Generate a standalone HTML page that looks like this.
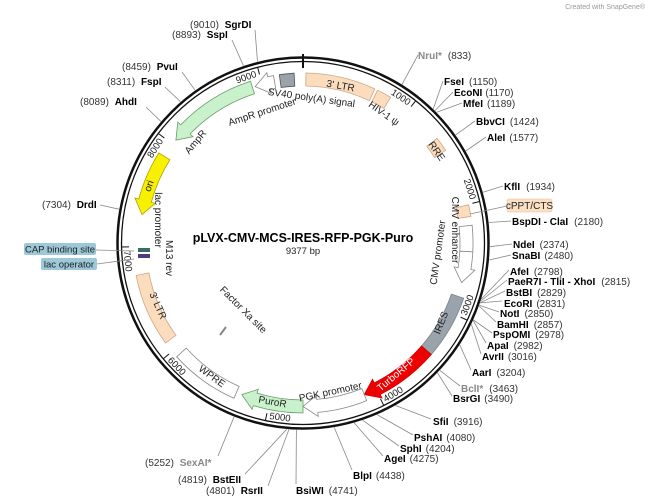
<!DOCTYPE html>
<html><head><meta charset="utf-8"><style>
html,body{margin:0;padding:0;background:#fff;}
svg{display:block;font-family:"Liberation Sans","DejaVu Sans",sans-serif;}
.n{font-weight:bold;font-size:10px;fill:#000;}
.p{font-size:10px;fill:#333;}
.f{font-size:10px;fill:#222;}
</style></head><body>
<svg id="s" width="649" height="502" viewBox="0 0 649 502" xmlns="http://www.w3.org/2000/svg">
<g id="lines" stroke="#888" stroke-width="0.8" fill="none"></g>
<g id="feat"></g>
<circle cx="303" cy="243" r="185.5" fill="none" stroke="#111" stroke-width="2.5"/>
<circle cx="303" cy="243" r="181.5" fill="none" stroke="#111" stroke-width="1.3"/>
<line x1="303" y1="54" x2="303" y2="68" stroke="#111" stroke-width="2"/>
<g id="ticks" stroke="#111" stroke-width="1"></g>

<text x="645" y="9" font-size="7" fill="#999" text-anchor="end">Created with SnapGene®</text>
<text x="303" y="242" text-anchor="middle" font-size="12.5" font-weight="bold">pLVX-CMV-MCS-IRES-RFP-PGK-Puro</text>
<text x="303" y="254" text-anchor="middle" font-size="9.5" fill="#222">9377 bp</text>

<g font-size="9.5" fill="#222" text-anchor="middle">
<text transform="translate(401,97) rotate(34)" dy="0.35em">1000</text>
<text transform="translate(470,189) rotate(72)" dy="0.35em">2000</text>
<text transform="translate(467,305) rotate(-69)" dy="0.35em">3000</text>
<text transform="translate(393,394) rotate(-31)" dy="0.35em">4000</text>
<text transform="translate(280,417) rotate(7)" dy="0.35em">5000</text>
<text transform="translate(177,366) rotate(46)" dy="0.35em">6000</text>
<text transform="translate(128,261) rotate(84)" dy="0.35em">7000</text>
<text transform="translate(155,148) rotate(-57)" dy="0.35em">8000</text>
<text transform="translate(246,77) rotate(-19)" dy="0.35em">9000</text>
</g>

<text class="f" transform="translate(340,89) rotate(10)" text-anchor="middle">3' LTR</text>
<text class="f" transform="translate(311,101) rotate(8)" text-anchor="middle">SV40 poly(A) signal</text>
<text class="f" transform="translate(263,115) rotate(-18)" text-anchor="middle">AmpR promoter</text>
<text class="f" transform="translate(382,116) rotate(35)" text-anchor="middle">HIV-1 ψ</text>
<text class="f" transform="translate(198,144) rotate(-50)" text-anchor="middle">AmpR</text>
<text class="f" transform="translate(434,153) rotate(55)" text-anchor="middle" font-size="9">RRE</text>
<text class="f" transform="translate(152,187) rotate(-70)" text-anchor="middle">ori</text>
<text class="f" transform="translate(155,220) rotate(90)" text-anchor="middle">lac promoter</text>
<text class="f" transform="translate(166,258) rotate(90)" text-anchor="middle">M13 rev</text>
<text class="f" transform="translate(155,307) rotate(66)" text-anchor="middle">3' LTR</text>
<text class="f" transform="translate(210,379) rotate(36)" text-anchor="middle">WPRE</text>
<text class="f" transform="translate(272,405) rotate(10)" text-anchor="middle">PuroR</text>
<text class="f" transform="translate(331,395) rotate(-12)" text-anchor="middle">PGK promoter</text>
<text transform="translate(398,377) rotate(-40)" text-anchor="middle" font-size="10" fill="#ffffff">TurboRFP</text>
<text class="f" transform="translate(444,324) rotate(-68)" text-anchor="middle">IRES</text>
<text class="f" transform="translate(441,253) rotate(-82)" text-anchor="middle">CMV promoter</text>
<text class="f" transform="translate(452,230) rotate(90)" text-anchor="middle">CMV enhancer</text>
<text class="f" transform="translate(241,312) rotate(45)" text-anchor="middle">Factor Xa site</text>
<line x1="220" y1="335" x2="226" y2="327" stroke="#888" stroke-width="2"/>

<text x="190" y="28"><tspan class="p">(9010) </tspan><tspan class="n" dx="3">SgrDI</tspan></text>
<text x="172" y="38"><tspan class="p">(8893) </tspan><tspan class="n" dx="3">SspI</tspan></text>
<text x="122" y="70"><tspan class="p">(8459) </tspan><tspan class="n" dx="3">PvuI</tspan></text>
<text x="107" y="85"><tspan class="p">(8311) </tspan><tspan class="n" dx="3">FspI</tspan></text>
<text x="80" y="105"><tspan class="p">(8089) </tspan><tspan class="n" dx="3">AhdI</tspan></text>
<text x="42" y="208"><tspan class="p">(7304) </tspan><tspan class="n" dx="3">DrdI</tspan></text>
<text x="145" y="466"><tspan class="p">(5252) </tspan><tspan class="n" dx="3" style="fill:#888">SexAI*</tspan></text>
<text x="178" y="483"><tspan class="p">(4819) </tspan><tspan class="n" dx="3">BstEII</tspan></text>
<text x="206" y="494"><tspan class="p">(4801) </tspan><tspan class="n" dx="3">RsrII</tspan></text>
<text x="296" y="494"><tspan class="n">BsiWI</tspan><tspan class="p" dx="5">(4741)</tspan></text>
<text x="353" y="479"><tspan class="n">BlpI</tspan><tspan class="p" dx="4">(4438)</tspan></text>
<text x="384" y="462"><tspan class="n">AgeI</tspan><tspan class="p" dx="4">(4275)</tspan></text>
<text x="400" y="452"><tspan class="n">SphI</tspan><tspan class="p" dx="4">(4204)</tspan></text>
<text x="414" y="441"><tspan class="n">PshAI</tspan><tspan class="p" dx="4">(4080)</tspan></text>
<text x="433" y="425"><tspan class="n">SfiI</tspan><tspan class="p" dx="5">(3916)</tspan></text>
<text x="453" y="402"><tspan class="n">BsrGI</tspan><tspan class="p" dx="4">(3490)</tspan></text>
<text x="461" y="392"><tspan class="n" style="fill:#888">BclI*</tspan><tspan class="p" dx="6">(3463)</tspan></text>
<text x="472" y="376"><tspan class="n">AarI</tspan><tspan class="p" dx="5">(3204)</tspan></text>
<text x="482" y="360"><tspan class="n">AvrII</tspan><tspan class="p" dx="4">(3016)</tspan></text>
<text x="487" y="349"><tspan class="n">ApaI</tspan><tspan class="p" dx="5">(2982)</tspan></text>
<text x="493" y="338"><tspan class="n">PspOMI</tspan><tspan class="p" dx="5">(2978)</tspan></text>
<text x="497" y="328"><tspan class="n">BamHI</tspan><tspan class="p" dx="5">(2857)</tspan></text>
<text x="500" y="317"><tspan class="n">NotI</tspan><tspan class="p" dx="5">(2850)</tspan></text>
<text x="504" y="307"><tspan class="n">EcoRI</tspan><tspan class="p" dx="4">(2831)</tspan></text>
<text x="506" y="296"><tspan class="n">BstBI</tspan><tspan class="p" dx="5">(2829)</tspan></text>
<text x="508" y="285"><tspan class="n">PaeR7I - TliI - XhoI</tspan><tspan class="p" dx="6">(2815)</tspan></text>
<text x="510" y="275"><tspan class="n">AfeI</tspan><tspan class="p" dx="5">(2798)</tspan></text>
<text x="512" y="259"><tspan class="n">SnaBI</tspan><tspan class="p" dx="4">(2480)</tspan></text>
<text x="513" y="248"><tspan class="n">NdeI</tspan><tspan class="p" dx="5">(2374)</tspan></text>
<text x="512" y="225"><tspan class="n">BspDI - ClaI</tspan><tspan class="p" dx="6">(2180)</tspan></text>
<text x="504" y="190"><tspan class="n">KflI</tspan><tspan class="p" dx="6">(1934)</tspan></text>
<text x="487" y="141"><tspan class="n">AleI</tspan><tspan class="p" dx="4">(1577)</tspan></text>
<text x="476" y="125"><tspan class="n">BbvCI</tspan><tspan class="p" dx="5">(1424)</tspan></text>
<text x="463" y="107"><tspan class="n">MfeI</tspan><tspan class="p" dx="4">(1189)</tspan></text>
<text x="454" y="96"><tspan class="n">EcoNI</tspan><tspan class="p" dx="3">(1170)</tspan></text>
<text x="444" y="85"><tspan class="n">FseI</tspan><tspan class="p" dx="5">(1150)</tspan></text>
<text x="418" y="59"><tspan class="n" style="fill:#888">NruI*</tspan><tspan class="p" dx="6">(833)</tspan></text>

<rect x="507" y="199" width="45" height="13" rx="2" fill="#fbe0c4" stroke="#e0c0a0" stroke-width="0.6"/>
<text x="529.5" y="209" text-anchor="middle" font-size="10" fill="#222">cPPT/CTS</text>
<line x1="470" y1="214" x2="507" y2="206" stroke="#888" stroke-width="0.8"/>
<rect x="24" y="243" width="72" height="12" rx="2" fill="#9cc8d8"/>
<text x="60" y="252.5" text-anchor="middle" font-size="9.5" fill="#222">CAP binding site</text>
<rect x="41" y="258" width="56" height="12" rx="2" fill="#9cc8d8"/>
<text x="69" y="267.5" text-anchor="middle" font-size="9.5" fill="#222">lac operator</text>
<line x1="96" y1="250" x2="134" y2="251" stroke="#888" stroke-width="0.8"/>
<line x1="97" y1="264" x2="134" y2="259" stroke="#888" stroke-width="0.8"/>
<rect x="138" y="248" width="12" height="4" fill="#3a6a6a"/>
<rect x="138" y="254" width="12" height="4" fill="#4a3a8a"/>
</svg>
<script>
(function(){
var cx=303,cy=243,N=9377,NS="http://www.w3.org/2000/svg";
function P(r,a){a=a*Math.PI/180;return [cx+r*Math.sin(a),cy-r*Math.cos(a)];}
function el(g,t,at){var e=document.createElementNS(NS,t);for(var k in at)e.setAttribute(k,at[k]);document.getElementById(g).appendChild(e);return e;}
function arc(r,a1,a2){var p=P(r,a2),l=Math.abs(a2-a1)>180?1:0,sw=a2>a1?1:0;return "A"+r+" "+r+" 0 "+l+" "+sw+" "+p[0].toFixed(1)+" "+p[1].toFixed(1);}
function M(r,a){var p=P(r,a);return "M"+p[0].toFixed(1)+" "+p[1].toFixed(1);}
function L(r,a){var p=P(r,a);return "L"+p[0].toFixed(1)+" "+p[1].toFixed(1);}
var ri=157,ro=170;
function box(a1,a2,fill,st){el("feat","path",{d:M(ro,a1)+arc(ro,a1,a2)+L(ri,a2)+arc(ri,a2,a1)+"Z",fill:fill,stroke:st||"#999","stroke-width":0.8});}
function arrow(a1,a2,fill,st){
 var h=5*(a2>a1?1:-1),b=a2-h,rm=(ri+ro)/2;
 el("feat","path",{d:M(ro,a1)+arc(ro,a1,b)+L(ro+4,b)+L(rm,a2)+L(ri-4,b)+L(ri,b)+arc(ri,b,a1)+"Z",fill:fill,stroke:st||"#777","stroke-width":0.8});}
var d=function(bp){return bp/N*360;};
box(1,25,"#fbdcbc","#c9a888");
box(26,31,"#fbdcbc","#c9a888");
box(52,57,"#fbdcbc","#c9a888");
box(77,81,"#fbdcbc","#c9a888");
box(84,93,"#fff","#888");
arrow(93,104,"#fff","#888");
box(109,131,"#9aa3ab","#7a838b");
arrow(131,158,"#ee0000","#cc0000");
arrow(158,180,"#fff","#888");
arrow(180,202,"#c9f2cc","#6a9a6a");
box(204,228,"#fff","#888");
box(234,259,"#fbdcbc","#c9a888");
arrow(302,280,"#f7f000","#b0a000");
arrow(342,309,"#c9f2cc","#6a9a6a");
arrow(350,343,"#fff","#888");
box(352,357,"#9aa3ab","#555");
for(var k=1;k<=9;k++){var a=d(k*1000);var p1=P(181,a),p2=P(174,a);el("ticks","line",{x1:p1[0],y1:p1[1],x2:p2[0],y2:p2[1]});}
var S=[[9010,255,30],[8893,232,40],[8459,182,72],[8311,165,87],[8089,146,107],[7304,100,205],
[5252,218,456],[4819,245,474],[4801,268,486],[4741,296,484],[4438,352,470],[4275,383,456],[4204,399,446],[4080,413,435],[3916,431,419],[3490,452,396],[3463,460,386],[3204,471,370],
[3016,481,354],[2982,486,343],[2978,492,333],[2857,496,322],[2850,499,312],[2831,502,301],[2829,505,291],[2815,507,280],[2798,509,270],
[2480,511,255],[2374,512,244],[2180,511,221],[1934,503,186],[1577,486,137],[1424,475,121],[1189,462,103],[1170,453,92],[1150,443,81],[833,418,55]];
S.forEach(function(s){var p=P(187,d(s[0]));el("lines","path",{d:"M"+p[0].toFixed(1)+" "+p[1].toFixed(1)+"L"+s[1]+" "+s[2]});});
})();
</script>
</body></html>
